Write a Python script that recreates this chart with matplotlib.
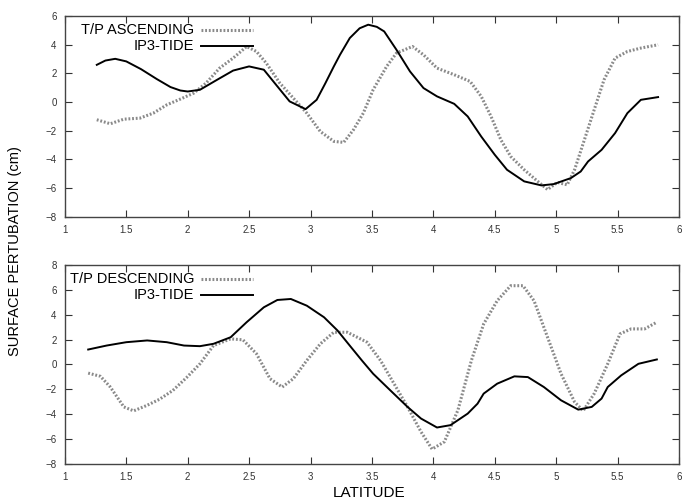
import matplotlib
matplotlib.use("Agg")
import matplotlib.pyplot as plt

plt.rcParams['font.family'] = ['Liberation Sans', 'DejaVu Sans']

# top panel: ascending track
asc_tp_x = [1.26, 1.37, 1.48, 1.61, 1.72, 1.83, 1.94, 2.05, 2.15, 2.26, 2.37, 2.48,
            2.56, 2.64, 2.75, 2.86, 2.97, 3.08, 3.19, 3.27, 3.35, 3.43, 3.51, 3.62,
            3.70, 3.83, 3.92, 4.03, 4.17, 4.30, 4.39, 4.47, 4.55, 4.63, 4.74, 4.85,
            4.93, 5.01, 5.09, 5.15, 5.23, 5.31, 5.39, 5.48, 5.58, 5.69, 5.83]
asc_tp_y = [-1.23, -1.51, -1.19, -1.12, -0.77, -0.19, 0.21, 0.63, 1.33, 2.37, 3.07, 3.88,
            3.53, 2.72, 1.33, 0.28, -0.77, -2.05, -2.74, -2.81, -1.93, -0.77, 0.86, 2.49,
            3.42, 3.88, 3.30, 2.37, 1.91, 1.44, 0.40, -1.00, -2.63, -3.79, -4.72, -5.53,
            -6.10, -5.60, -5.77, -4.72, -2.63, -0.53, 1.56, 3.07, 3.53, 3.77, 4.00]
asc_tide_x = [1.26, 1.33, 1.41, 1.50, 1.62, 1.75, 1.86, 1.94, 2.00, 2.10, 2.24, 2.37,
              2.50, 2.62, 2.73, 2.83, 2.96, 3.05, 3.12, 3.19, 3.24, 3.32, 3.40, 3.47,
              3.54, 3.60, 3.70, 3.81, 3.92, 4.03, 4.17, 4.28, 4.39, 4.50, 4.60, 4.74,
              4.88, 4.98, 5.12, 5.20, 5.26, 5.37, 5.48, 5.58, 5.69, 5.83]
asc_tide_y = [2.60, 2.90, 3.02, 2.84, 2.30, 1.60, 1.05, 0.81, 0.74, 0.86, 1.56, 2.20,
              2.49, 2.26, 1.10, 0.05, -0.49, 0.16, 1.30, 2.49, 3.30, 4.47, 5.15, 5.40,
              5.25, 4.93, 3.65, 2.14, 0.98, 0.40, -0.12, -1.00, -2.40, -3.67, -4.72, -5.53,
              -5.81, -5.72, -5.30, -4.84, -4.14, -3.33, -2.16, -0.77, 0.16, 0.35]

# bottom panel: descending track
des_tp_x = [1.19, 1.29, 1.37, 1.48, 1.56, 1.67, 1.77, 1.88, 1.99, 2.10, 2.21, 2.35,
            2.45, 2.56, 2.67, 2.77, 2.86, 2.97, 3.08, 3.19, 3.30, 3.38, 3.46, 3.57,
            3.68, 3.79, 3.90, 3.99, 4.09, 4.20, 4.31, 4.41, 4.52, 4.63, 4.73, 4.82,
            4.93, 5.04, 5.15, 5.22, 5.31, 5.42, 5.52, 5.61, 5.72, 5.82]
des_tp_y = [-0.70, -0.96, -1.82, -3.42, -3.74, -3.29, -2.81, -2.09, -1.07, 0.05, 1.52, 2.06,
            1.98, 0.86, -1.15, -1.82, -1.15, 0.32, 1.66, 2.59, 2.59, 2.19, 1.79, 0.32,
            -1.55, -3.42, -5.43, -6.82, -6.23, -3.69, 0.32, 3.26, 5.13, 6.34, 6.34, 5.13,
            2.19, -0.75, -3.02, -3.74, -2.35, 0.05, 2.46, 2.86, 2.86, 3.40]
des_tide_x = [1.19, 1.34, 1.50, 1.67, 1.83, 1.97, 2.10, 2.21, 2.35, 2.48, 2.62, 2.73,
              2.84, 2.97, 3.11, 3.22, 3.33, 3.42, 3.51, 3.65, 3.79, 3.90, 4.03, 4.14,
              4.28, 4.36, 4.41, 4.52, 4.66, 4.77, 4.90, 5.04, 5.18, 5.29, 5.37, 5.42,
              5.53, 5.67, 5.82]
des_tide_y = [1.20, 1.52, 1.79, 1.93, 1.79, 1.52, 1.47, 1.66, 2.19, 3.40, 4.60, 5.19,
              5.27, 4.73, 3.80, 2.73, 1.39, 0.30, -0.75, -2.09, -3.42, -4.36, -5.08, -4.89,
              -3.96, -3.16, -2.35, -1.55, -0.96, -1.02, -1.82, -2.89, -3.64, -3.42, -2.75, -1.82,
              -0.88, 0.05, 0.40]

xticks = [1, 1.5, 2, 2.5, 3, 3.5, 4, 4.5, 5, 5.5, 6]
xticklabels = ['1', '1.5', '2', '2.5', '3', '3.5', '4', '4.5', '5', '5.5', '6']

fig = plt.figure(figsize=(6.9, 5.03), dpi=100)
ax1 = fig.add_axes([0.094, 0.569, 0.890, 0.399])
ax2 = fig.add_axes([0.094, 0.078, 0.890, 0.395])

dot_style = dict(color='#8a8a8a', lw=2.2, linestyle=(0, (0.6, 0.6)))
solid_style = dict(color='black', lw=1.4)

panels = [
    (ax1, asc_tp_x, asc_tp_y, asc_tide_x, asc_tide_y, 'T/P ASCENDING', (-8, 6), range(-8, 7, 2)),
    (ax2, des_tp_x, des_tp_y, des_tide_x, des_tide_y, 'T/P DESCENDING', (-8, 8), range(-8, 9, 2)),
]

for ax, tx, ty, ix, iy, lab, ylim, yt in panels:
    ax.plot(tx, ty, **dot_style)
    ax.plot(ix, iy, **solid_style)
    ax.set_xlim(1, 6)
    ax.set_ylim(*ylim)
    ax.set_xticks(xticks)
    ax.set_xticklabels(xticklabels)
    ax.set_yticks(list(yt))
    ax.tick_params(direction='in', top=True, right=True, length=5, width=0.8,
                   labelsize=7, colors='#333333', pad=6)
    for s in ax.spines.values():
        s.set_color('#444444')
        s.set_linewidth(1.0)
    # gnuplot style key: right-aligned text, sample line to the right
    ax.text(0.211, 0.93, lab, transform=ax.transAxes, ha='right', va='center', fontsize=10.5)
    ax.plot([0.222, 0.306], [0.93, 0.93], transform=ax.transAxes, **dot_style)
    ax.text(0.211, 0.85, 'IP3-TIDE', transform=ax.transAxes, ha='right', va='center', fontsize=10.5)
    ax.plot([0.222, 0.306], [0.85, 0.85], transform=ax.transAxes, **solid_style)

fig.text(0.022, 0.50, 'SURFACE PERTUBATION (cm)', rotation=90, ha='center', va='center',
         fontsize=10.5)
fig.text(0.535, 0.02, 'LATITUDE', ha='center', va='center', fontsize=11)

fig.savefig('out.png', dpi=100)
